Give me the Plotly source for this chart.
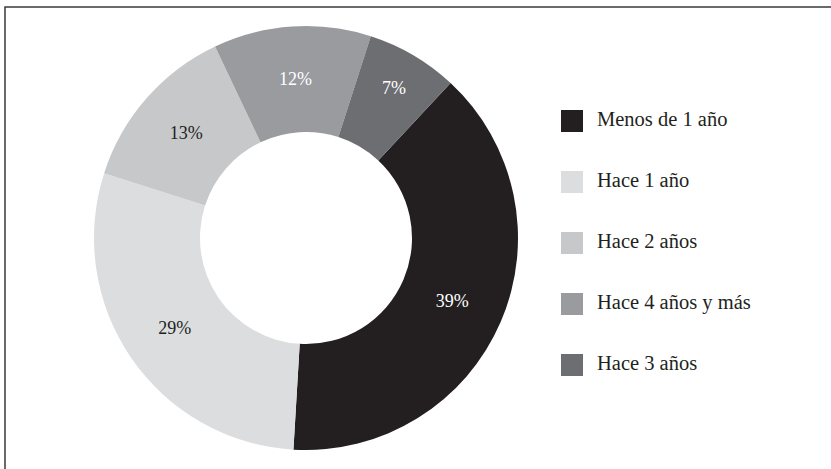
import plotly.graph_objects as go

labels = ["Menos de 1 año", "Hace 1 año", "Hace 2 años", "Hace 4 años y más", "Hace 3 años"]
values = [39, 29, 13, 12, 7]
colors = ["#231f20", "#dcdddf", "#c7c8ca", "#9a9b9e", "#6d6e71"]
text_colors = ["white", "#231f20", "#231f20", "white", "white"]

FONT = "Liberation Serif"

fig = go.Figure()

fig.add_trace(go.Pie(
    labels=labels,
    values=values,
    hole=0.5,
    sort=False,
    direction="clockwise",
    rotation=43,
    marker=dict(colors=colors, line=dict(width=0)),
    texttemplate="%{value}%",
    textposition="inside",
    insidetextorientation="horizontal",
    insidetextfont=dict(family=FONT, size=18, color=text_colors),
    domain=dict(x=[94/831, 518/831], y=[19/469, 443/469]),
    showlegend=False,
    hoverinfo="label+percent",
))

# Custom legend drawn as a scatter trace
fig.add_trace(go.Scatter(
    x=[0] * len(labels),
    y=list(range(len(labels))),
    mode="markers+text",
    marker=dict(symbol="square", size=22, color=colors, line=dict(width=0)),
    text=["\u00a0\u00a0" + l for l in labels],
    textposition="middle right",
    textfont=dict(family=FONT, size=20.5, color="#231f20"),
    showlegend=False,
    hoverinfo="skip",
    cliponaxis=False,
))

fig.update_layout(
    width=831,
    height=469,
    margin=dict(l=0, r=0, t=0, b=0),
    paper_bgcolor="white",
    plot_bgcolor="rgba(0,0,0,0)",
    showlegend=False,
    xaxis=dict(domain=[0.66, 1.0], range=[-1, 11], visible=False, fixedrange=True),
    yaxis=dict(domain=[0, 1], range=[5.705, -1.984], visible=False, fixedrange=True),
    shapes=[dict(
        type="rect", xref="paper", yref="paper",
        x0=5/831, x1=1.02, y0=-0.02, y1=(469 - 7)/469,
        line=dict(color="#3a3a3a", width=1.5),
        fillcolor="rgba(0,0,0,0)",
    )],
)

fig.write_html(
    "out.html",
    config={"displayModeBar": False},
    post_script="document.body.style.margin='0';document.body.style.overflow='hidden';",
)
